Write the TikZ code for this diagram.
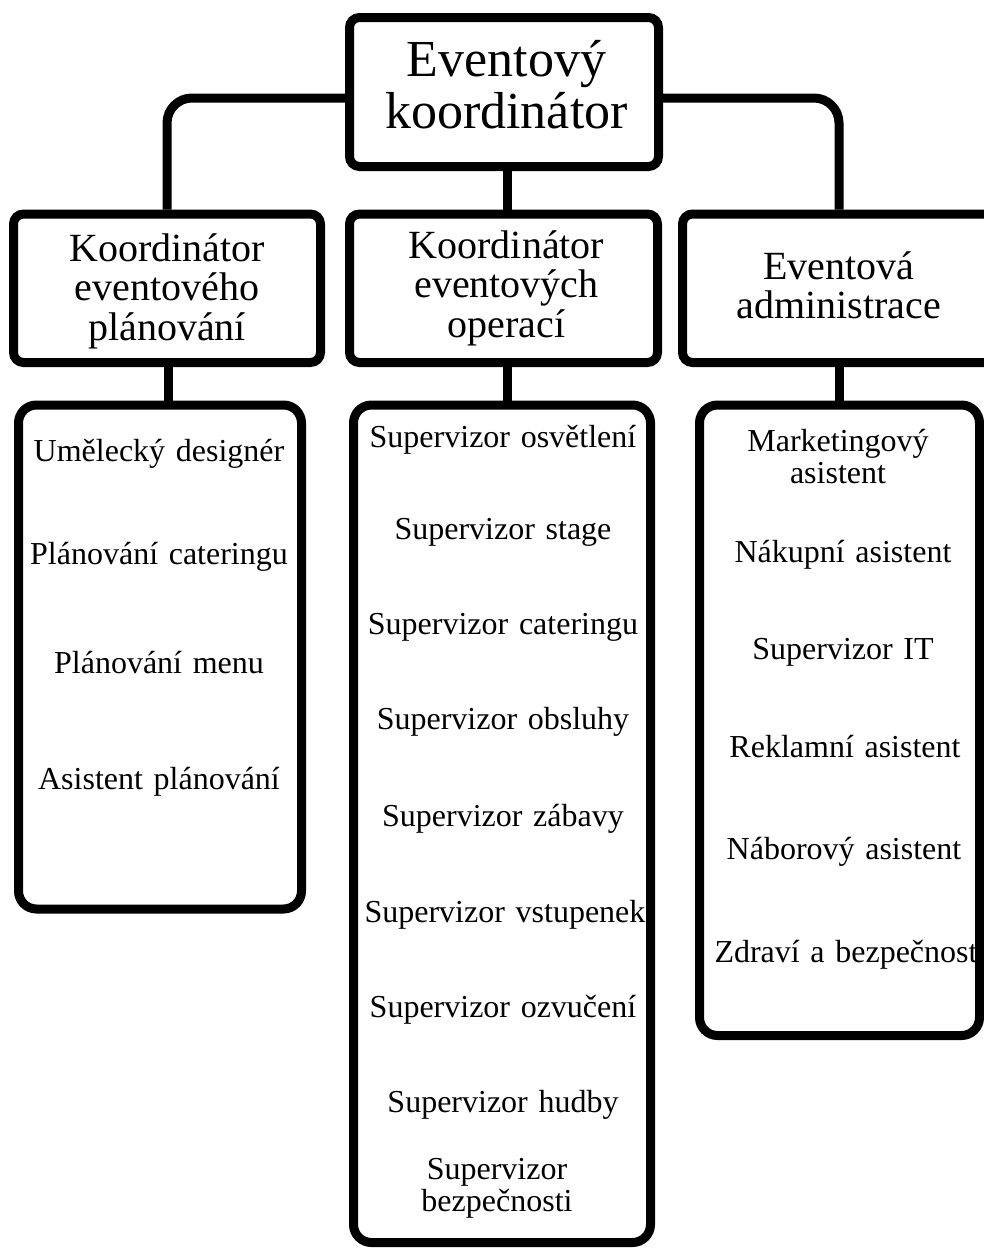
\documentclass[tikz,border=0pt]{standalone}
\usepackage{fontspec}
\setmainfont{Liberation Serif}
\usetikzlibrary{backgrounds}
\begin{document}
\begin{tikzpicture}[x=1pt,y=-1pt,
  box/.style={draw, line width=9pt, rounded corners=10pt, fill=white, inner sep=0pt, align=center, text height=0pt},
  topfont/.style={font=\fontsize{52}{52}\selectfont},
  midfont/.style={font=\fontsize{40}{39.5}\selectfont},
  listbox/.style={draw, line width=9pt, rounded corners=18pt, fill=white, inner sep=0pt},
  conn/.style={line width=9pt, rounded corners=25pt},
  item/.style={anchor=base, inner sep=0pt, align=center, text width=290pt, font=\fontsize{32}{32.5}\selectfont}]
\useasboundingbox (0,0) rectangle (984,1248);
\clip (0,0) rectangle (984,1248);

% boxes
\node[box, topfont, minimum width=309pt, minimum height=149pt, text width=300pt, text depth=32pt] (top) at (504,92) {\hspace*{5pt}Eventový\\\hspace*{5pt}koordinátor};
\node[box, midfont, minimum width=307pt, minimum height=148.5pt, text width=300pt, text depth=54.5pt] (l2a) at (167,288.25) {Koordinátor\\eventového\\plánování};
\node[box, midfont, minimum width=308pt, minimum height=148.5pt, text width=300pt, text depth=60.5pt] (l2b) at (503.5,288.25) {\hspace*{6pt}Koordinátor\\\hspace*{6pt}eventových\\\hspace*{6pt}operací};
\node[box, midfont, minimum width=313pt, minimum height=148.5pt, text width=300pt, text depth=18.5pt] (l2c) at (839,288.25) {Eventová\\administrace};

\node[listbox, minimum width=283pt, minimum height=504pt] (lista) at (160,657) {};
\node[listbox, minimum width=297pt, minimum height=837.5pt] (listb) at (502,823.75) {};
\node[listbox, minimum width=280pt, minimum height=630.5pt] (listc) at (839.5,720.25) {};

% connectors behind the boxes
\begin{scope}[on background layer]
\fill[white] (0,0) rectangle (984,1248);
\draw[conn] ([yshift=-6pt]top.west) -| (l2a.north);
\draw[conn] ([yshift=-6pt]top.east) -| (l2c.north);
\draw[line width=9pt] ([xshift=3pt]top.south) -- ([xshift=3.5pt]l2b.north);
\draw[line width=9pt] ([xshift=1pt]l2a.south) -- ([xshift=1pt]l2a.south |- lista.north);
\draw[line width=9pt] ([xshift=3.5pt]l2b.south) -- ([xshift=3.5pt]l2b.south |- listb.north);
\draw[line width=9pt] (l2c.south) -- (l2c.south |- listc.north);
\end{scope}

% left list items
\node[item] (a1) at (159,461) {Umělecký designér};
\node[item] (a2) at (159,564) {Plánování cateringu};
\node[item] (a3) at (159,673) {Plánování menu};
\node[item] (a4) at (159,789) {Asistent plánování};

% middle list items
\node[item] (b1) at (503,447) {Supervizor osvětlení};
\node[item] (b2) at (503,539) {Supervizor stage};
\node[item] (b3) at (503,634) {Supervizor cateringu};
\node[item] (b4) at (503,729) {Supervizor obsluhy};
\node[item] (b5) at (503,826) {Supervizor zábavy};
\node[item] (b6) at (505,922) {Supervizor vstupenek};
\node[item] (b7) at (503,1017) {Supervizor ozvučení};
\node[item] (b8) at (503,1112) {Supervizor hudby};
\node[item] (b9) at (497,1179) {Supervizor\\bezpečnosti};

% right list items
\node[item] (c1) at (838,451) {Marketingový\\asistent};
\node[item] (c2) at (843,562) {Nákupní asistent};
\node[item] (c3) at (843,659) {Supervizor IT};
\node[item] (c4) at (845,757) {Reklamní asistent};
\node[item] (c5) at (844,859) {Náborový asistent};
\node[item] (c6) at (846,962) {Zdraví a bezpečnost};
\end{tikzpicture}
\end{document}
